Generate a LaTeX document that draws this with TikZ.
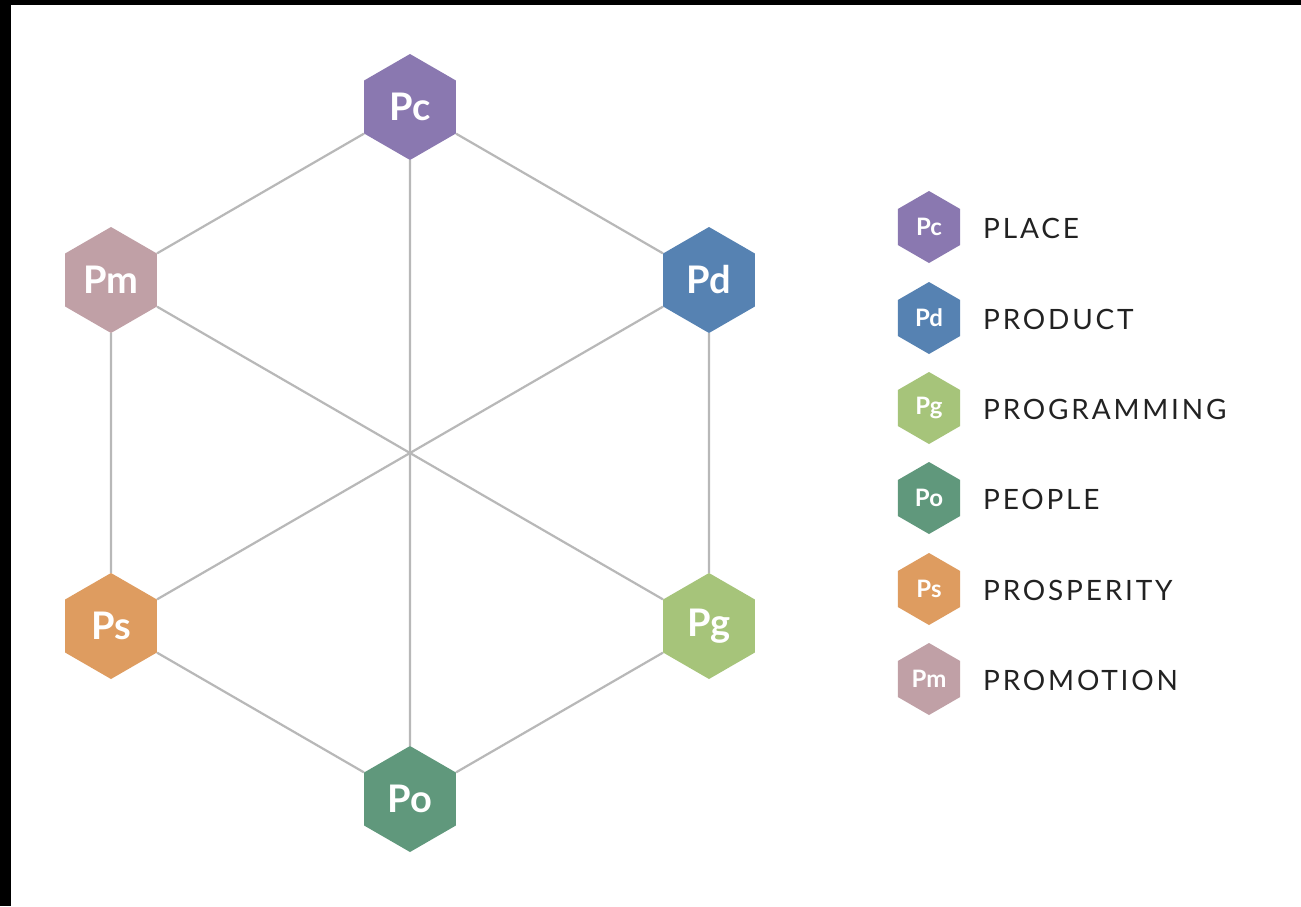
\documentclass[tikz,border=0pt]{standalone}
\usepackage{fontspec}
\setmainfont{Lato}
\newfontfamily\legfont[LetterSpace=10]{Lato}
\usetikzlibrary{shapes.geometric}
\definecolor{cpc}{HTML}{8A78B0}
\definecolor{cpd}{HTML}{5682B2}
\definecolor{cpg}{HTML}{A6C47A}
\definecolor{cpo}{HTML}{60987C}
\definecolor{cps}{HTML}{DE9C60}
\definecolor{cpm}{HTML}{C0A0A6}
\definecolor{edgegray}{HTML}{B8B8B8}
\definecolor{txt}{HTML}{222222}
\tikzset{
  hexbig/.style={regular polygon, regular polygon sides=6, shape border rotate=30,
    minimum size=106pt, inner sep=0pt, text=white, font=\fontsize{38}{38}\selectfont\bfseries},
  hexsmall/.style={regular polygon, regular polygon sides=6, shape border rotate=30,
    minimum size=72pt, inner sep=0pt, text=white, font=\fontsize{24}{24}\selectfont\bfseries},
  edge/.style={draw=edgegray, line width=2.2pt},
  legtext/.style={anchor=west, inner sep=0pt, text=txt, font=\fontsize{28}{28}\selectfont\legfont},
}
\begin{document}
\begin{tikzpicture}[x=1pt,y=-1pt]
\useasboundingbox (0,0) rectangle (1301,906);
\fill[white] (0,0) rectangle (1301,906);
\fill[black] (0,0) rectangle (1301,5);
\fill[black] (0,0) rectangle (11,906);
% main hexagon nodes
\node[hexbig, fill=cpc] (pc) at (410,107) {Pc};
\node[hexbig, fill=cpd] (pd) at (709,280) {Pd};
\node[hexbig, fill=cpg] (pg) at (709,626) {Pg};
\node[hexbig, fill=cpo] (po) at (410,799) {Po};
\node[hexbig, fill=cps] (ps) at (111,626) {Ps};
\node[hexbig, fill=cpm] (pm) at (111,280) {Pm};
% edges
\draw[edge] (pc) -- (pd);
\draw[edge] (pd) -- (pg);
\draw[edge] (pg) -- (po);
\draw[edge] (po) -- (ps);
\draw[edge] (ps) -- (pm);
\draw[edge] (pm) -- (pc);
\draw[edge] (pc) -- (po);
\draw[edge] (pd) -- (ps);
\draw[edge] (pm) -- (pg);
% legend
\node[hexsmall, fill=cpc] (lpc) at (929,227) {Pc};
\node[hexsmall, fill=cpd] (lpd) at (929,318) {Pd};
\node[hexsmall, fill=cpg] (lpg) at (929,408) {Pg};
\node[hexsmall, fill=cpo] (lpo) at (929,498) {Po};
\node[hexsmall, fill=cps] (lps) at (929,589) {Ps};
\node[hexsmall, fill=cpm] (lpm) at (929,679) {Pm};
\node[legtext] (tpc) at (983,228) {PLACE};
\node[legtext] (tpd) at (983,319) {PRODUCT};
\node[legtext] (tpg) at (983,409) {PROGRAMMING};
\node[legtext] (tpo) at (983,499) {PEOPLE};
\node[legtext] (tps) at (983,590) {PROSPERITY};
\node[legtext] (tpm) at (983,680) {PROMOTION};
\end{tikzpicture}
\end{document}
